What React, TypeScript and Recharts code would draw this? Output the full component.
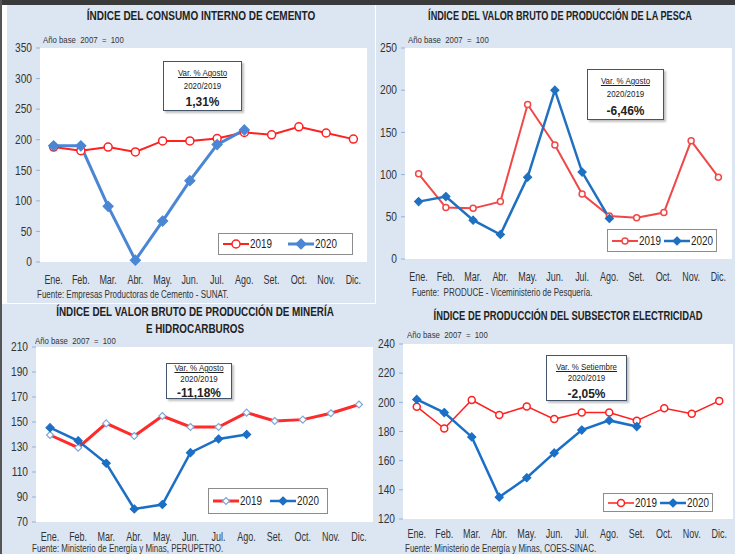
import React from 'react'
import { LineChart, Line, XAxis, YAxis, CartesianGrid, ReferenceArea, Legend } from 'recharts'

const MESES = ['Ene.', 'Feb.', 'Mar.', 'Abr.', 'May.', 'Jun.', 'Jul.', 'Ago.', 'Set.', 'Oct.', 'Nov.', 'Dic.']
const BORDES = [0, 1, 2, 3, 4, 5, 6, 7, 8, 9, 10, 11, 12]

const CEMENTO_2019 = [188, 182, 188, 180, 198, 198, 202, 212, 208, 221, 211, 201]
const CEMENTO_2020 = [190, 190, 91, 3, 67, 133, 192, 216]
const CEMENTO_TICKS = [0, 50, 100, 150, 200, 250, 300, 350]

const PESCA_2019 = [101, 61, 60, 68, 183, 135, 77, 51, 49, 55, 140, 97]
const PESCA_2020 = [68, 74, 46, 29, 97, 200, 103, 48]
const PESCA_TICKS = [0, 50, 100, 150, 200, 250]

const MINERIA_2019 = [139.6, 129.5, 148.9, 138.8, 154.8, 146, 146, 157.5, 150.8, 151.9, 157, 164]
const MINERIA_2020 = [145.5, 135, 117, 80.4, 84, 125.5, 136.4, 140]
const MINERIA_TICKS = [70, 90, 110, 130, 150, 170, 190, 210]

const ELECTRICIDAD_2019 = [197, 182, 201.6, 191.3, 197.2, 188.5, 193, 193, 187.4, 196, 192.2, 201]
const ELECTRICIDAD_2020 = [202, 193, 176.3, 135, 148.3, 165.3, 181, 187.6, 183.4]
const ELECTRICIDAD_TICKS = [120, 140, 160, 180, 200, 220, 240]

// no narrow font installed, so Arial metrics squeezed with scaleX
const ARIAL = '"Liberation Sans", Arial, sans-serif'
const BG = '#dce6f2'
const AXIS = '#8db3e2'

type Serie = {
  name: string
  color: string
  width: number
  marker: 'circle' | 'diamond'
  size: number
  fill: string
  markerStroke?: string
}

function marker(s: Serie, cx: number, cy: number, key?: any) {
  const stroke = s.markerStroke ?? s.color
  if (s.marker === 'circle') {
    return <circle key={key} cx={cx} cy={cy} r={s.size} fill={s.fill} stroke={stroke} strokeWidth={1.5} />
  }
  const r = s.size
  return (
    <path
      key={key}
      d={`M${cx},${cy - r}L${cx + r},${cy}L${cx},${cy + r}L${cx - r},${cy}Z`}
      fill={s.fill}
      stroke={stroke}
      strokeWidth={1.2}
    />
  )
}

const dotFor = (s: Serie) => (props: any) => {
  const { cx, cy, index, value } = props
  if (value == null || cx == null || cy == null || isNaN(cy)) return <g key={index} />
  return marker(s, cx, cy, index)
}

const squeeze = (x: number, y: number, k: number) => `translate(${x} ${y}) scale(${k} 1) translate(${-x} ${-y})`

const XTick = (props: any) => {
  const { x, y, payload } = props
  return (
    <text
      x={x}
      y={y}
      dy="0.71em"
      textAnchor="middle"
      fontSize={12.5}
      fill="#333"
      fontFamily={ARIAL}
      transform={squeeze(x, y, 0.72)}
    >
      {payload.value}
    </text>
  )
}

const YTick = (props: any) => {
  const { x, y, payload } = props
  return (
    <text
      x={x}
      y={y}
      dy="0.355em"
      textAnchor="end"
      fontSize={12}
      fill="#333"
      fontFamily={ARIAL}
      transform={squeeze(x, y, 0.85)}
    >
      {payload.value}
    </text>
  )
}

type Box = { x: number; y: number; w: number; h: number }

type PanelDef = {
  box: Box
  plot: { left: number; top: number; right: number; bottom: number }
  ticks: number[]
  v2019: number[]
  v2020: number[]
  s2019: Serie
  s2020: Serie
  xGap: number
  title: string[]
  titleY: number[]
  titleX: number
  titleK: number
  baseAt: [number, number]
  fuente: string
  fuenteAt: [number, number]
  mes: string
  pct: string
  note: Box
  noteLines: number[]
  legend: Box
}

function Panel(p: PanelDef) {
  const data = MESES.map((mes, i) => ({ mes, a2019: p.v2019[i] ?? null, a2020: p.v2020[i] ?? null }))
  const lo = p.ticks[0]
  const hi = p.ticks[p.ticks.length - 1]
  const plotW = p.box.w - p.plot.left - p.plot.right
  const half = plotW / 24
  const series: Record<string, Serie> = { '2019': p.s2019, '2020': p.s2020 }

  return (
    <div style={{ position: 'absolute', left: p.box.x, top: p.box.y, width: p.box.w, height: p.box.h }}>
      {p.title.map((t, i) => (
        <div
          key={t}
          style={{
            position: 'absolute',
            left: p.titleX - 250,
            width: 500,
            top: p.titleY[i] - 8,
            lineHeight: '16px',
            textAlign: 'center',
            fontFamily: ARIAL,
            fontWeight: 'bold',
            fontSize: 12.5,
            color: '#222',
            transform: `scaleX(${p.titleK})`,
          }}
        >
          {t}
        </div>
      ))}
      <div
        style={{
          position: 'absolute',
          left: p.baseAt[0],
          top: p.baseAt[1] - 6,
          lineHeight: '12px',
          fontFamily: ARIAL,
          fontSize: 9.5,
          color: '#333',
          whiteSpace: 'pre',
          transform: 'scaleX(0.82)',
          transformOrigin: 'left center',
        }}
      >
        {'Año base  2007  =  100'}
      </div>
      <LineChart
        width={p.box.w}
        height={p.box.h}
        data={data}
        margin={{ top: p.plot.top, right: p.plot.right, left: 0, bottom: 0 }}
      >
        <CartesianGrid horizontal={false} vertical={false} fill="#fff" xAxisId="m" yAxisId="v" />
        <XAxis
          xAxisId="edges"
          type="number"
          domain={[0, 12]}
          ticks={BORDES}
          tick={false}
          axisLine={false}
          tickLine={{ stroke: AXIS }}
          tickSize={4}
          height={0}
        />
        <XAxis
          xAxisId="m"
          dataKey="mes"
          padding={{ left: half, right: half }}
          interval={0}
          axisLine={false}
          tickLine={false}
          tickSize={0}
          tickMargin={p.xGap}
          height={p.plot.bottom}
          tick={XTick}
        />
        <YAxis
          yAxisId="v"
          domain={[lo, hi]}
          ticks={p.ticks}
          width={p.plot.left}
          tickSize={4}
          tickMargin={4}
          axisLine={false}
          tickLine={{ stroke: AXIS }}
          tick={YTick}
        />
        <ReferenceArea
          xAxisId="edges"
          yAxisId="v"
          x1={0}
          x2={12}
          y1={lo}
          y2={hi}
          fill="none"
          fillOpacity={0}
          stroke={AXIS}
          strokeWidth={1.5}
        />
        <Line
          xAxisId="m"
          yAxisId="v"
          dataKey="a2019"
          name="2019"
          stroke={p.s2019.color}
          strokeWidth={p.s2019.width}
          dot={dotFor(p.s2019)}
          activeDot={false}
          isAnimationActive={false}
        />
        <Line
          xAxisId="m"
          yAxisId="v"
          dataKey="a2020"
          name="2020"
          stroke={p.s2020.color}
          strokeWidth={p.s2020.width}
          dot={dotFor(p.s2020)}
          activeDot={false}
          isAnimationActive={false}
        />
        <Legend
          layout="vertical"
          align="center"
          verticalAlign="middle"
          wrapperStyle={{ left: p.legend.x, top: p.legend.y, width: p.legend.w, height: p.legend.h }}
          content={(lp: any) => (
            <div
              style={{
                boxSizing: 'border-box',
                width: p.legend.w,
                height: p.legend.h,
                background: '#fff',
                border: '1px solid #8c8c8c',
                display: 'flex',
                alignItems: 'center',
                justifyContent: 'space-evenly',
                paddingLeft: 4,
              }}
            >
              {(lp.payload || []).map((e: any) => {
                const s = series[e.value]
                return (
                  <span key={e.value} style={{ display: 'flex', alignItems: 'center', width: '50%' }}>
                    <svg width={26} height={12} style={{ flex: 'none' }}>
                      <line x1={0} y1={6} x2={26} y2={6} stroke={s.color} strokeWidth={s.width} />
                      {marker(s, 13, 6)}
                    </svg>
                    <span
                      style={{
                        fontFamily: ARIAL,
                        fontSize: 12,
                        color: '#222',
                        marginLeft: 1,
                        display: 'inline-block',
                        transform: 'scaleX(0.82)',
                        transformOrigin: 'left center',
                      }}
                    >
                      {e.value}
                    </span>
                  </span>
                )
              })}
            </div>
          )}
        />
      </LineChart>
      <div
        style={{
          position: 'absolute',
          left: p.note.x,
          top: p.note.y,
          width: p.note.w,
          height: p.note.h,
          boxSizing: 'border-box',
          background: '#fff',
          border: '1.5px solid #44546a',
          boxShadow: '2px 2px 2px rgba(0,0,0,0.25)',
          fontFamily: ARIAL,
          color: '#222',
        }}
      >
        {[`Var. % ${p.mes}`, '2020/2019', p.pct].map((t, i) => (
          <div
            key={t}
            style={{
              position: 'absolute',
              left: -20,
              right: -20,
              top: p.noteLines[i] - 7,
              lineHeight: '14px',
              textAlign: 'center',
              fontSize: i === 2 ? 13 : 9,
              fontWeight: i === 2 ? 'bold' : 'normal',
              textDecoration: i === 0 ? 'underline' : 'none',
              transform: i === 2 ? 'scaleX(0.92)' : 'scaleX(0.88)',
            }}
          >
            {t}
          </div>
        ))}
      </div>
      <div
        style={{
          position: 'absolute',
          left: p.fuenteAt[0],
          top: p.fuenteAt[1] - 6,
          lineHeight: '12px',
          fontFamily: ARIAL,
          fontSize: 10,
          color: '#333',
          whiteSpace: 'pre',
          transform: 'scaleX(0.8)',
          transformOrigin: 'left center',
        }}
      >
        {p.fuente}
      </div>
    </div>
  )
}

const RED: Serie = { name: '2019', color: '#ff2020', width: 2, marker: 'circle', size: 4, fill: '#fff' }
const BLUE: Serie = { name: '2020', color: '#4a86d4', width: 3, marker: 'diamond', size: 5, fill: '#4a86d4' }

const PANELES: PanelDef[] = [
  {
    box: { x: 0, y: 0, w: 370, h: 300 },
    plot: { left: 40, top: 48, right: 3, bottom: 38 },
    ticks: CEMENTO_TICKS,
    v2019: CEMENTO_2019,
    v2020: CEMENTO_2020,
    s2019: RED,
    s2020: BLUE,
    xGap: 13,
    title: ['ÍNDICE DEL CONSUMO INTERNO DE CEMENTO'],
    titleY: [16],
    titleX: 201,
    titleK: 0.8,
    baseAt: [43, 40],
    fuente: 'Fuente: Empresas Productoras de Cemento - SUNAT.',
    fuenteAt: [37, 295],
    mes: 'Agosto',
    pct: '1,31%',
    note: { x: 163, y: 61, w: 79, h: 50 },
    noteLines: [11, 24, 40],
    legend: { x: 218, y: 233, w: 135, h: 22 },
  },
  {
    box: { x: 370, y: 0, w: 365, h: 300 },
    plot: { left: 35, top: 48, right: 3, bottom: 41 },
    ticks: PESCA_TICKS,
    v2019: PESCA_2019,
    v2020: PESCA_2020,
    s2019: { ...RED, color: '#f04848', size: 3, width: 2 },
    s2020: { ...BLUE, color: '#2070c0', fill: '#2070c0', width: 2.5, size: 4 },
    xGap: 13,
    title: ['ÍNDICE DEL VALOR BRUTO DE PRODUCCIÓN DE LA PESCA'],
    titleY: [16],
    titleX: 190,
    titleK: 0.73,
    baseAt: [38, 40],
    fuente: 'Fuente:  PRODUCE - Viceministerio de Pesquería.',
    fuenteAt: [42, 293],
    mes: 'Agosto',
    pct: '-6,46%',
    note: { x: 217, y: 69, w: 77, h: 51 },
    noteLines: [11, 24, 41],
    legend: { x: 237, y: 229, w: 110, h: 23 },
  },
  {
    box: { x: 0, y: 300, w: 375, h: 254 },
    plot: { left: 36, top: 47, right: 2, bottom: 32 },
    ticks: MINERIA_TICKS,
    v2019: MINERIA_2019,
    v2020: MINERIA_2020,
    s2019: { ...RED, color: '#ff2a2a', width: 3, marker: 'diamond', size: 3.5, fill: '#fff', markerStroke: '#7fa6d8' },
    s2020: { ...BLUE, color: '#1c6fc4', fill: '#1c6fc4', width: 2.5, size: 4 },
    xGap: 10,
    title: ['ÍNDICE DEL VALOR BRUTO DE PRODUCCIÓN DE MINERÍA', 'E HIDROCARBUROS'],
    titleY: [12, 29],
    titleX: 195,
    titleK: 0.79,
    baseAt: [35, 41],
    fuente: 'Fuente: Ministerio de Energía y Minas, PERUPETRO.',
    fuenteAt: [32, 249],
    mes: 'Agosto',
    pct: '-11,18%',
    note: { x: 166, y: 63, w: 66, h: 36 },
    noteLines: [4, 15, 29],
    legend: { x: 208, y: 188, w: 120, h: 26 },
  },
  {
    box: { x: 375, y: 300, w: 360, h: 254 },
    plot: { left: 28, top: 44, right: 2, bottom: 35 },
    ticks: ELECTRICIDAD_TICKS,
    v2019: ELECTRICIDAD_2019,
    v2020: ELECTRICIDAD_2020,
    s2019: { ...RED, color: '#ff2020', width: 1.5, size: 3.5 },
    s2020: { ...BLUE, color: '#1a6fc6', fill: '#1a6fc6', width: 2.5, size: 4 },
    xGap: 10,
    title: ['ÍNDICE DE PRODUCCIÓN DEL SUBSECTOR ELECTRICIDAD'],
    titleY: [16],
    titleX: 193,
    titleK: 0.75,
    baseAt: [32, 35],
    fuente: 'Fuente: Ministerio de Energía y Minas, COES-SINAC.',
    fuenteAt: [30, 249],
    mes: 'Setiembre',
    pct: '-2,05%',
    note: { x: 171, y: 55, w: 81, h: 46 },
    noteLines: [11, 22, 38],
    legend: { x: 228, y: 193, w: 110, h: 19 },
  },
]

export default function App() {
  return (
    <div style={{ position: 'fixed', left: 0, top: 0, width: 735, height: 554, background: BG, overflow: 'hidden' }}>
      <div style={{ position: 'absolute', left: 0, top: 0, width: 735, height: 5, background: '#3a3a3a' }} />
      <div style={{ position: 'absolute', left: 0, top: 0, width: 2, height: 554, background: '#555' }} />
      <div style={{ position: 'absolute', left: 2, top: 5, width: 5, height: 298, background: '#fff' }} />
      <div style={{ position: 'absolute', left: 375, top: 5, width: 1, height: 298, background: '#fff' }} />
      <div style={{ position: 'absolute', left: 2, top: 303, width: 374, height: 1, background: '#fff' }} />
      {PANELES.map((p, i) => (
        <Panel key={i} {...p} />
      ))}
    </div>
  )
}
